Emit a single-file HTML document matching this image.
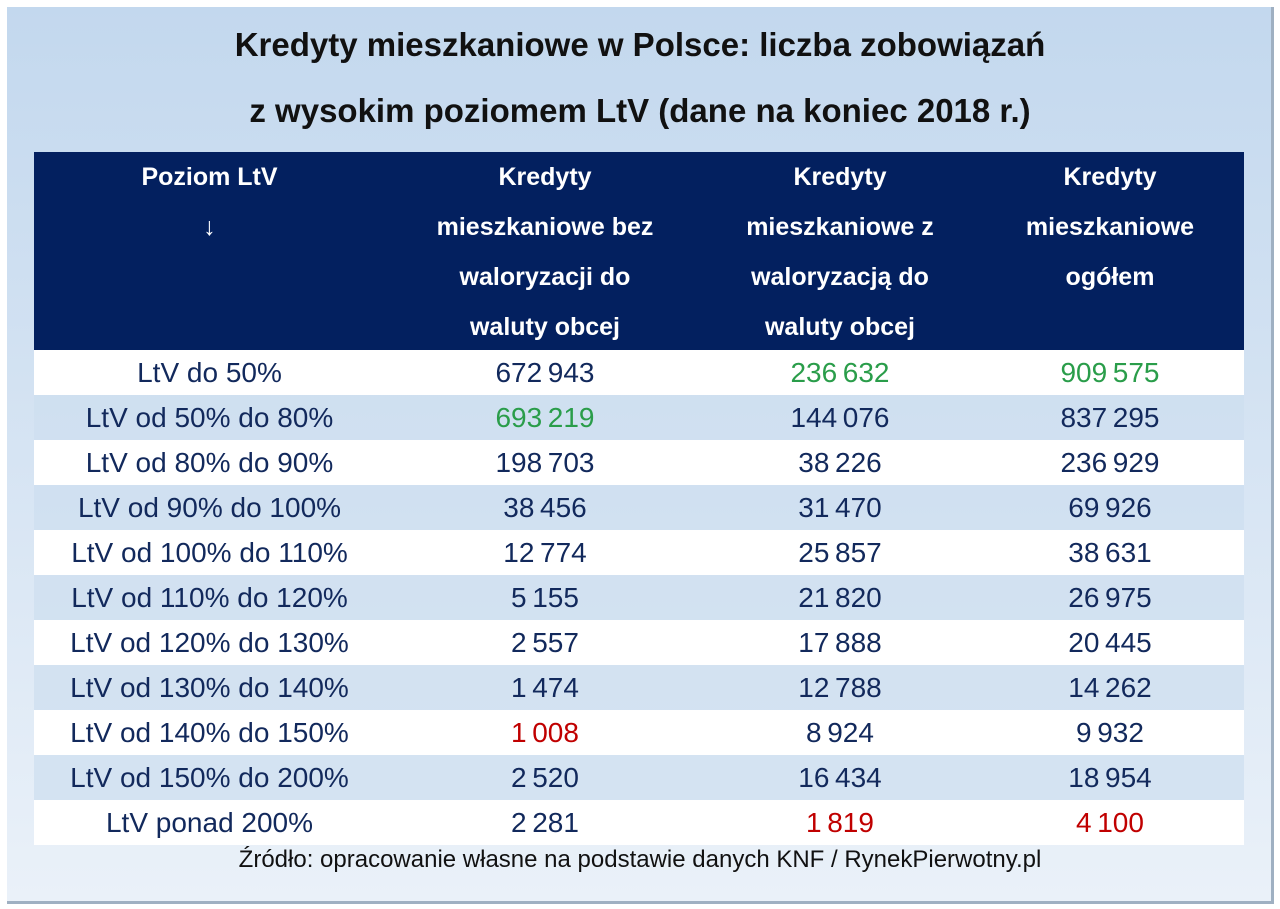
<!DOCTYPE html>
<html><head><meta charset="utf-8">
<style>
html,body{margin:0;padding:0;width:1280px;height:909px;background:#fff;overflow:hidden;font-family:"Liberation Sans",sans-serif;}
#panel{position:absolute;left:7px;top:7px;width:1264px;height:894px;background:linear-gradient(180deg,#c3d8ee 0%,#d6e4f3 50%,#eaf1f9 100%);border-right:3px solid #9fb0c2;border-bottom:3px solid #9fb0c2;}
.title{position:absolute;left:0;width:1280px;text-align:center;font-weight:bold;font-size:33px;color:#111;}
#hdr{position:absolute;left:34px;top:152px;width:1210px;height:198px;background:#03205f;}
.hc{position:absolute;top:0;text-align:center;color:#fff;font-weight:bold;font-size:25px;line-height:50px;padding-top:0px;}
.row{position:absolute;left:34px;width:1210px;height:45px;}
.cell{position:absolute;top:0;height:45px;line-height:45px;text-align:center;font-size:28px;color:#12295c;}
#foot{position:absolute;left:0;width:1280px;top:846px;text-align:center;font-size:24px;color:#111;}
</style></head><body>
<div id="panel"></div>
<div class="title" style="top:26px">Kredyty mieszkaniowe w Polsce: liczba zobowiązań</div>
<div class="title" style="top:92px">z wysokim poziomem LtV (dane na koniec 2018 r.)</div>
<div id="hdr">
 <div class="hc" style="left:0;width:351px">Poziom LtV<br>↓</div>
 <div class="hc" style="left:351px;width:320px">Kredyty<br>mieszkaniowe bez<br>waloryzacji do<br>waluty obcej</div>
 <div class="hc" style="left:671px;width:270px">Kredyty<br>mieszkaniowe z<br>waloryzacją do<br>waluty obcej</div>
 <div class="hc" style="left:941px;width:270px">Kredyty<br>mieszkaniowe<br>ogółem</div>
</div>
<div id="rows"></div>
<div id="foot">Źródło: opracowanie własne na podstawie danych KNF / RynekPierwotny.pl</div>
<script>
const categories=["LtV do 50%","LtV od 50% do 80%","LtV od 80% do 90%","LtV od 90% do 100%","LtV od 100% do 110%","LtV od 110% do 120%","LtV od 120% do 130%","LtV od 130% do 140%","LtV od 140% do 150%","LtV od 150% do 200%","LtV ponad 200%"];
const withoutFx=[672943,693219,198703,38456,12774,5155,2557,1474,1008,2520,2281];
const withFx=[236632,144076,38226,31470,25857,21820,17888,12788,8924,16434,1819];
const total=[909575,837295,236929,69926,38631,26975,20445,14262,9932,18954,4100];
const cols=[[0,351],[351,320],[671,270],[941,270]];
function fmt(v){return String(v).replace(/\B(?=(\d{3})+(?!\d))/g,"\u202F");}
function colorFor(arr,i){
  const mx=Math.max(...arr),mn=Math.min(...arr);
  if(arr[i]===mx)return "#2a9d4a";
  if(arr[i]===mn)return "#c00000";
  return "#12295c";
}
const wrap=document.getElementById('rows');
const series=[withoutFx,withFx,total];
const names=['without-fx','with-fx','total'];
categories.forEach((c,i)=>{
  const r=document.createElement('div');
  r.className='row';
  r.style.top=(350+i*45)+'px';
  r.style.background=i%2===0?'#ffffff':'rgba(205,222,240,0.7)';
  
  
  const l=document.createElement('div');
  l.className='cell';l.style.left=cols[0][0]+'px';l.style.width=cols[0][1]+'px';
  l.textContent=c;
  
  
  r.appendChild(l);
  series.forEach((s,k)=>{
    const d=document.createElement('div');
    d.className='cell';d.style.left=cols[k+1][0]+'px';d.style.width=cols[k+1][1]+'px';
    d.style.color=colorFor(s,i);
    d.textContent=fmt(s[i]);
    
    
    r.appendChild(d);
  });
  wrap.appendChild(r);
});
</script>
</body></html>
